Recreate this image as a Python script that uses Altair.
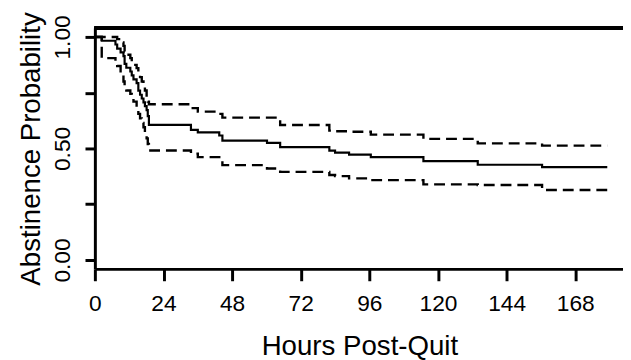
import altair as alt
import pandas as pd

# Kaplan-Meier estimate with 95% confidence band
hours = [0, 2.4, 7.2, 7.8, 9.0, 10.0, 10.4, 11.0, 12.4, 12.9,
         13.5, 14.6, 15.2, 15.8, 16.4, 17.0, 17.5, 18.1, 18.5, 18.9,
         33.6, 36.0, 43.5, 44.6, 60.2, 64.8, 82.0, 84.0, 88.9, 96.5,
         114.9, 133.9, 156.4, 179.2]
estimate = [1.0, 0.983, 0.966, 0.948, 0.931, 0.914, 0.879, 0.862, 0.845, 0.828,
            0.810, 0.793, 0.759, 0.741, 0.724, 0.707, 0.690, 0.672, 0.645, 0.606,
            0.583, 0.572, 0.558, 0.535, 0.525, 0.506, 0.490, 0.481, 0.472, 0.461,
            0.443, 0.427, 0.416, 0.416]
upper = [1.0, 1.0, 1.0, 0.99, 0.975, 0.96, 0.935, 0.92, 0.905, 0.89,
         0.875, 0.86, 0.835, 0.82, 0.80, 0.785, 0.76, 0.73, 0.71, 0.698,
         0.681, 0.665, 0.655, 0.638, 0.638, 0.605, 0.58, 0.577, 0.575, 0.562,
         0.543, 0.523, 0.513, 0.513]
lower = [1.0, 0.905, 0.89, 0.87, 0.835, 0.80, 0.775, 0.76, 0.745, 0.73,
         0.71, 0.68, 0.655, 0.635, 0.615, 0.595, 0.57, 0.545, 0.52, 0.491,
         0.477, 0.461, 0.454, 0.425, 0.41, 0.395, 0.381, 0.376, 0.366, 0.358,
         0.339, 0.336, 0.314, 0.314]

x_ticks = [0, 24, 48, 72, 96, 120, 144, 168]
y_ticks = [0, 0.25, 0.5, 0.75, 1.0]
x_title = "Hours Post-Quit"
y_title = "Abstinence Probability"

n = len(hours)
est_df = pd.DataFrame({"hours": hours, "prob": estimate, "series": ["Estimate"] * n})
ci_df = pd.DataFrame({
    "hours": hours + hours,
    "prob": upper + lower,
    "series": ["Upper"] * n + ["Lower"] * n,
})

FONT = "Liberation Sans"
W, H = 535, 244

xs = alt.Scale(domain=[0, 184.7], nice=False, zero=False)
ys = alt.Scale(domain=[-0.04, 1.04], nice=False, zero=False)

x_axis = alt.Axis(
    values=x_ticks, title=x_title, grid=False,
    domainColor="black", domainWidth=3,
    tickColor="black", tickWidth=3, tickSize=12,
    labelFont=FONT, labelFontSize=23, labelColor="black",
    labelPadding=30, labelBaseline="alphabetic", labelFlush=False,
    labelOverlap=False, labelBound=False,
    titleFont=FONT, titleFontSize=28, titleFontWeight="normal", titleColor="black",
    titleX=268, titleY=87, titleBaseline="alphabetic", titleAlign="center",
)
y_axis = alt.Axis(
    values=y_ticks, title=y_title, grid=False,
    domainColor="black", domainWidth=3,
    tickColor="black", tickWidth=3, tickSize=10,
    labelExpr="(datum.value == 0 || datum.value == 0.5 || datum.value == 1) ? format(datum.value, '.2f') : ''",
    labelFont=FONT, labelFontSize=23, labelColor="black",
    labelAngle=270, labelAlign="center", labelBaseline="alphabetic",
    labelPadding=16, labelFlush=False, labelOverlap=False, labelBound=False,
    titleFont=FONT, titleFontSize=28, titleFontWeight="normal", titleColor="black",
    titleAngle=270, titleX=-56, titleY=122, titleBaseline="alphabetic", titleAlign="center",
)

est_line = alt.Chart(est_df).mark_line(
    interpolate="step-after", color="black", strokeWidth=2.2
).encode(
    x=alt.X("hours:Q", scale=xs, axis=x_axis),
    y=alt.Y("prob:Q", scale=ys, axis=y_axis),
)

ci_lines = alt.Chart(ci_df).mark_line(
    interpolate="step-after", color="black", strokeWidth=2.4, strokeDash=[11, 6]
).encode(
    x=alt.X("hours:Q", scale=xs),
    y=alt.Y("prob:Q", scale=ys),
    detail="series:N",
)

top_frame = alt.Chart(est_df).mark_rule(color="black", strokeWidth=3).encode(
    x=alt.value(0), x2=alt.value(W), y=alt.value(0)
)

chart = alt.layer(top_frame, ci_lines, est_line).properties(
    width=W, height=H,
    autosize=alt.AutoSizeParams(type="none"),
    padding={"left": 88, "top": 18, "right": 0, "bottom": 90},
).configure_view(stroke=None)

chart.save("out.html", embed_options={"renderer": "svg", "actions": False})
